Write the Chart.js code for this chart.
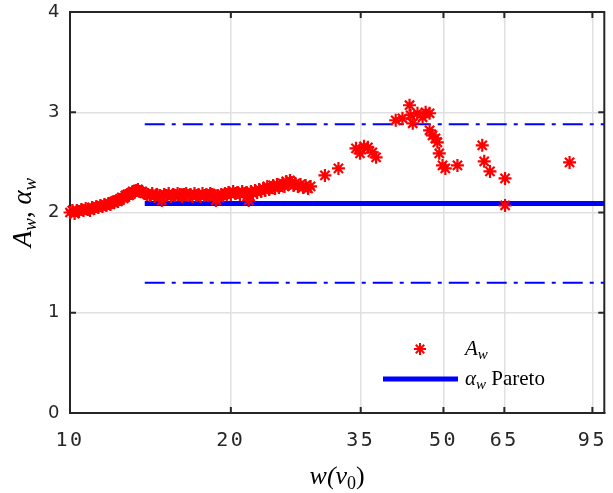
<!DOCTYPE html>
<html><head><meta charset="utf-8">
<script src="https://cdn.jsdelivr.net/npm/chart.js@4.4.0/dist/chart.umd.min.js"></script>
<style>html,body{margin:0;padding:0;background:#fff;overflow:hidden}canvas{display:block}</style>
</head><body>
<canvas id="c" width="613" height="493"></canvas>
<script>
// ---- data ----
const xTickValues = [10, 20, 35, 50, 65, 95];
const yTickValues = [0, 1, 2, 3, 4];
const awX = [
  10.0,10.1,10.2,10.3,10.4,10.5,10.6,10.7,10.8,10.9,11.0,11.1,11.2,11.3,11.4,11.5,11.6,11.7,11.8,11.9,
  12.0,12.1,12.2,12.3,12.4,12.5,12.6,12.7,12.8,12.9,13.0,13.1,13.2,13.3,13.4,13.5,
  13.65,13.8,13.95,14.1,14.25,14.4,14.55,14.7,14.85,15.0,15.15,15.3,15.45,15.6,15.75,15.9,16.05,16.2,16.35,16.5,
  16.65,16.8,16.95,17.1,17.25,17.4,17.55,17.7,17.85,18.0,18.15,18.3,18.45,18.6,18.75,18.9,19.05,19.2,19.35,19.5,19.65,19.8,
  20.0,20.2,20.4,20.6,20.8,21.0,21.2,21.4,21.6,21.8,22.0,22.2,22.4,22.6,22.8,23.0,23.2,23.4,23.6,23.8,
  24.0,24.2,24.4,24.6,24.8,25.0,25.2,25.4,25.6,25.8,26.0,26.2,26.4,26.7,27.0,27.3,27.6,27.9,28.2,
  30.0,31.8,
  34.3,34.9,35.5,36.1,36.8,37.4,
  40.7,41.9,43.2,43.4,43.8,44.7,45.7,46.3,47.1,47.1,47.7,48.3,48.7,49.1,49.8,50.4,53.1,
  59.1,59.6,61.1,65.2,65.2,86.1
];
const awY = [
  2.00,2.02,1.99,2.02,2.01,2.03,2.02,2.04,2.03,2.02,2.05,2.04,2.06,2.05,2.07,2.06,2.08,2.07,2.09,2.08,
  2.10,2.11,2.12,2.11,2.13,2.15,2.14,2.17,2.18,2.17,2.19,2.21,2.20,2.22,2.23,2.21,
  2.21,2.19,2.18,2.17,2.19,2.16,2.18,2.17,2.12,2.18,2.17,2.19,2.16,2.18,2.17,2.19,2.18,2.16,2.18,2.19,
  2.17,2.18,2.16,2.19,2.17,2.18,2.16,2.19,2.17,2.18,2.17,2.19,2.18,2.16,2.12,2.17,2.15,2.18,2.17,2.19,2.18,2.20,
  2.18,2.21,2.19,2.20,2.18,2.21,2.19,2.20,2.12,2.21,2.19,2.22,2.20,2.23,2.21,2.24,2.22,2.26,2.23,2.25,
  2.27,2.24,2.28,2.25,2.27,2.29,2.26,2.31,2.28,2.32,2.30,2.27,2.29,2.26,2.28,2.25,2.27,2.24,2.26,
  2.37,2.44,
  2.64,2.59,2.66,2.65,2.60,2.55,
  2.92,2.94,3.07,2.97,2.89,2.99,2.95,3.00,2.99,2.82,2.77,2.74,2.70,2.59,2.47,2.44,2.47,
  2.67,2.51,2.41,2.34,2.07,2.50
];
const paretoAlpha = 2.09;
const paretoLow = 1.30;
const paretoHigh = 2.88;
const paretoRange = [13.8, 100];

const RED = '#ff0000', BLUE = '#0000ff', AXIS = '#262626', GRID = '#e0e0e0';

function richWidth(ctx, parts) {
  let w = 0;
  parts.forEach(p => { ctx.font = p.font; p.w = ctx.measureText(p.t).width; w += p.w; });
  return w;
}
function drawRich(ctx, parts, x, y) {
  ctx.textAlign = 'left'; ctx.textBaseline = 'alphabetic';
  parts.forEach(p => { ctx.font = p.font; ctx.fillText(p.t, x, y + (p.dy || 0)); x += p.w; });
}
function noPad(s) { s.paddingLeft = 0; s.paddingRight = 0; s.paddingTop = 0; s.paddingBottom = 0; }

const framePlugin = {
  id: 'frame',
  beforeDraw(chart) {
    if ('letterSpacing' in chart.ctx) chart.ctx.letterSpacing = '2.5px';
  },
  beforeDatasetsDraw(chart) {
    const {ctx, chartArea: a, scales} = chart;
    if ('letterSpacing' in ctx) ctx.letterSpacing = '0px';
    ctx.save();
    ctx.strokeStyle = AXIS; ctx.lineWidth = 2;
    ctx.beginPath();
    ctx.moveTo(a.left, a.top); ctx.lineTo(a.right, a.top); ctx.lineTo(a.right, a.bottom);
    yTickValues.forEach(v => {
      const py = scales.y.getPixelForValue(v);
      ctx.moveTo(a.left, py); ctx.lineTo(a.left + 6, py);
      ctx.moveTo(a.right, py); ctx.lineTo(a.right - 6, py);
    });
    xTickValues.forEach(v => {
      const px = scales.x.getPixelForValue(v);
      ctx.moveTo(px, a.bottom); ctx.lineTo(px, a.bottom - 6);
      ctx.moveTo(px, a.top); ctx.lineTo(px, a.top + 6);
    });
    ctx.stroke();
    ctx.restore();
  },
  afterDraw(chart) {
    const {ctx, chartArea: a} = chart;
    ctx.save();
    ctx.fillStyle = '#000';
    // x title
    const xt = [
      {t: 'w(v', font: 'italic 26px "Liberation Serif"'},
      {t: '0', font: '18px "Liberation Serif"', dy: 5},
      {t: ')', font: '26px "Liberation Serif"'}
    ];
    const xw = richWidth(ctx, xt);
    drawRich(ctx, xt, (a.left + a.right) / 2 - xw / 2, 484);
    // y title
    const yt = [
      {t: 'A', font: 'italic 27px "Liberation Serif"'},
      {t: 'w', font: 'italic 19px "Liberation Serif"', dy: 5},
      {t: ', ', font: '27px "Liberation Serif"'},
      {t: 'α', font: 'italic 27px "Liberation Serif"'},
      {t: 'w', font: 'italic 19px "Liberation Serif"', dy: 5}
    ];
    const yw = richWidth(ctx, yt);
    ctx.translate(31, (a.top + a.bottom) / 2);
    ctx.rotate(-Math.PI / 2);
    drawRich(ctx, yt, -yw / 2, 0);
    ctx.restore();

    // legend
    ctx.save();
    ctx.strokeStyle = RED; ctx.lineWidth = 2;
    const sx = 420, sy = 349, r = 6;
    ctx.beginPath();
    ctx.moveTo(sx - r, sy); ctx.lineTo(sx + r, sy);
    ctx.moveTo(sx, sy - r); ctx.lineTo(sx, sy + r);
    const d = r * Math.SQRT1_2;
    ctx.moveTo(sx - d, sy - d); ctx.lineTo(sx + d, sy + d);
    ctx.moveTo(sx - d, sy + d); ctx.lineTo(sx + d, sy - d);
    ctx.stroke();
    ctx.strokeStyle = BLUE; ctx.lineWidth = 5;
    ctx.beginPath(); ctx.moveTo(383, 379); ctx.lineTo(458, 379); ctx.stroke();
    ctx.fillStyle = '#000';
    const l1 = [{t: 'A', font: 'italic 21px "Liberation Serif"'}, {t: 'w', font: 'italic 15px "Liberation Serif"', dy: 4}];
    richWidth(ctx, l1); drawRich(ctx, l1, 465, 355);
    const l2 = [{t: 'α', font: 'italic 21px "Liberation Serif"'}, {t: 'w', font: 'italic 15px "Liberation Serif"', dy: 4},
                {t: ' Pareto', font: '21px "Liberation Serif"'}];
    richWidth(ctx, l2); drawRich(ctx, l2, 465, 385);
    ctx.restore();
  }
};

new Chart(document.getElementById('c'), {
  type: 'scatter',
  data: {
    datasets: [
      {
        label: 'A_w',
        data: awX.map((x, i) => ({x, y: awY[i]})),
        pointStyle: 'star', pointRadius: 6.5, pointBorderWidth: 2.2,
        borderColor: RED, backgroundColor: RED, clip: false, order: 0
      },
      {
        label: 'alpha_w Pareto',
        data: paretoRange.map(x => ({x, y: paretoAlpha})),
        showLine: true, borderColor: BLUE, borderWidth: 5, pointRadius: 0, order: 1
      },
      {
        label: 'upper',
        data: paretoRange.map(x => ({x, y: paretoHigh})),
        showLine: true, borderColor: BLUE, borderWidth: 2, borderDash: [20, 7, 4, 7], pointRadius: 0, order: 2
      },
      {
        label: 'lower',
        data: paretoRange.map(x => ({x, y: paretoLow})),
        showLine: true, borderColor: BLUE, borderWidth: 2, borderDash: [20, 7, 4, 7], pointRadius: 0, order: 2
      }
    ]
  },
  options: {
    responsive: false, animation: false, devicePixelRatio: 1,
    layout: {padding: {top: 12, right: 4, left: 0, bottom: 0}},
    plugins: {legend: {display: false}, tooltip: {enabled: false}},
    scales: {
      x: {
        type: 'logarithmic', min: 10, max: 100,
        afterBuildTicks: s => { s.ticks = xTickValues.map(v => ({value: v})); },
        afterFit: s => { s.height = 80; noPad(s); },
        ticks: {autoSkip: false, maxRotation: 0, minRotation: 0, padding: 16, color: AXIS,
                font: {family: '"DejaVu Sans Mono"', size: 20}, callback: v => String(v)},
        grid: {color: GRID, lineWidth: 1.5, drawTicks: false},
        border: {display: true, color: AXIS, width: 2}
      },
      y: {
        type: 'linear', min: 0, max: 4,
        afterBuildTicks: s => { s.ticks = yTickValues.map(v => ({value: v})); },
        afterFit: s => { s.width = 70; noPad(s); },
        ticks: {padding: 8, color: AXIS, font: {family: '"DejaVu Sans"', size: 18}, callback: v => String(v)},
        grid: {color: GRID, lineWidth: 1.5, drawTicks: false},
        border: {display: true, color: AXIS, width: 2}
      }
    }
  },
  plugins: [framePlugin]
});
</script>
</body></html>
